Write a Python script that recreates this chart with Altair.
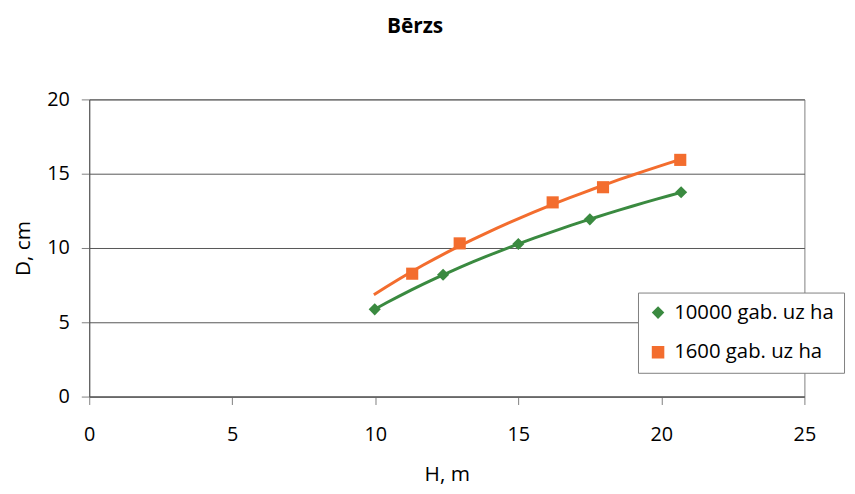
import altair as alt
import pandas as pd

series_a = "10000 gab. uz ha"
series_b = "1600 gab. uz ha"
h_a = [9.98, 12.37, 15.0, 17.5, 20.69]
d_a = [5.87, 8.2, 10.27, 11.93, 13.75]
h_b = [11.29, 12.95, 16.2, 17.96, 20.66]
d_b = [8.27, 10.31, 13.07, 14.09, 15.93]
x_ticks = [0, 5, 10, 15, 20, 25]
y_ticks = [0, 5, 10, 15, 20]
colors = ["#3A8A40", "#F36D2E"]
shapes = ["diamond", "square"]
trend_extent_a = [9.98, 20.69]
trend_extent_b = [9.95, 20.66]

df = pd.DataFrame({
    "H": h_a + h_b,
    "D": d_a + d_b,
    "series": [series_a] * len(h_a) + [series_b] * len(h_b),
})

FONT = "Open Sans"

x = alt.X("H:Q", scale=alt.Scale(domain=[0, 25], nice=False, zero=False),
          axis=alt.Axis(values=x_ticks, title="H, m", grid=False, tickSize=8,
                        labelPadding=20, titlePadding=20, labelFontSize=20,
                        titleFontSize=21, labelFont=FONT, titleFont=FONT,
                        labelColor="black", titleColor="black", titleFontWeight="normal",
                        domainColor="#555555", tickColor="#808080", labelFlush=False))
y = alt.Y("D:Q", scale=alt.Scale(domain=[0, 20], nice=False),
          axis=alt.Axis(values=y_ticks, title="D, cm", grid=True, gridColor="#555555",
                        tickSize=8, labelPadding=12, titlePadding=13, labelFontSize=20,
                        titleFontSize=21, labelFont=FONT, titleFont=FONT,
                        labelColor="black", titleColor="black", titleFontWeight="normal",
                        domainColor="#555555", tickColor="#808080"))

base = alt.Chart(df)

line_a = base.transform_filter(alt.datum.series == series_a).transform_regression(
    "H", "D", method="log", extent=trend_extent_a
).mark_line(color=colors[0], strokeWidth=3).encode(x=x, y=y)

line_b = base.transform_filter(alt.datum.series == series_b).transform_regression(
    "H", "D", method="log", extent=trend_extent_b
).mark_line(color=colors[1], strokeWidth=3).encode(x=x, y=y)

leg = alt.Legend(orient="none", legendX=554, legendY=195, title=None,
                 labelFontSize=20.5, labelFont=FONT, labelColor="black",
                 strokeColor="#808080", fillColor="white", padding=10,
                 rowPadding=19, symbolSize=160, labelOffset=6, labelLimit=400,
                 symbolStrokeWidth=0)

points = base.mark_point(filled=True, size=150, opacity=1).encode(
    x=x, y=y,
    color=alt.Color("series:N", scale=alt.Scale(domain=[series_a, series_b], range=colors), legend=leg),
    shape=alt.Shape("series:N", scale=alt.Scale(domain=[series_a, series_b], range=shapes), legend=leg),
)

chart = alt.layer(line_a, line_b, points).properties(
    width=722, height=300,
    title=alt.TitleParams("Bērzs", fontSize=21, fontWeight="bold", font=FONT,
                          anchor="middle", dx=-32, offset=32, baseline="bottom", color="black"),
    autosize=alt.AutoSizeParams(type="none"),
    padding={"left": 82, "top": 90, "right": 43, "bottom": 88},
).configure_view(stroke="#808080")

chart.save("out.html", embed_options={"renderer": "svg", "actions": False})
